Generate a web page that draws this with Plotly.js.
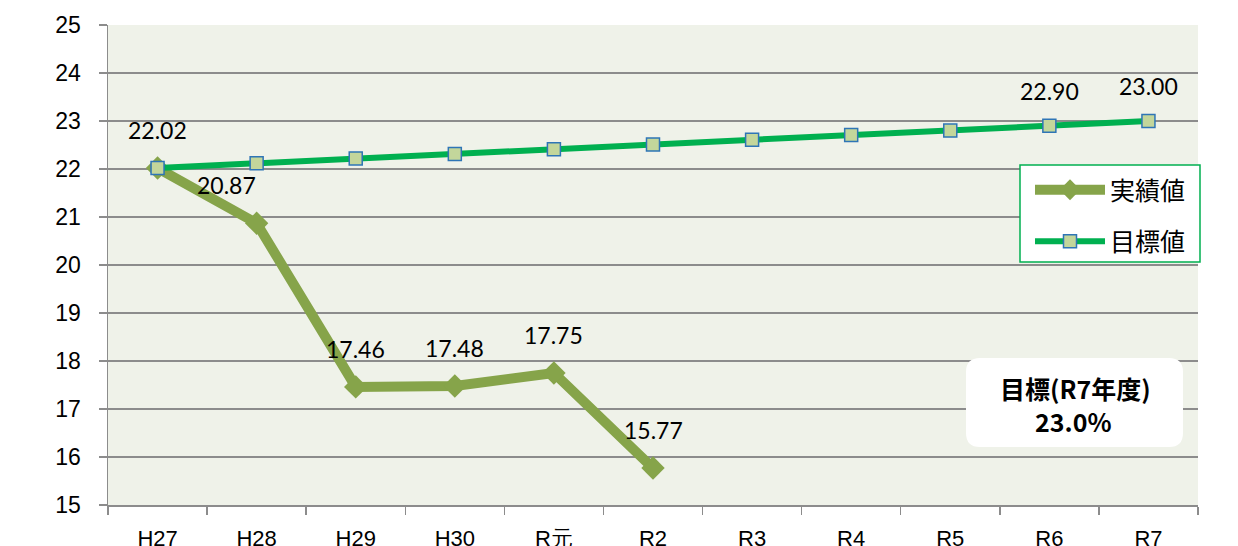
<!DOCTYPE html>
<html>
<head>
<meta charset="utf-8">
<script src="https://cdn.plot.ly/plotly-3.0.1.min.js"></script>
<style>html,body{margin:0;padding:0;background:#fff;}#chart{width:1238px;height:546px;}</style>
</head>
<body>
<div id="chart"></div>
<script>
// ---- data ----
const categories = ["H27","H28","H29","H30","R元","R2","R3","R4","R5","R6","R7"];
const actualName = "実績値";
const targetName = "目標値";
const actualValues = [22.02, 20.87, 17.46, 17.48, 17.75, 15.77, null, null, null, null, null];
const targetValues = [22.02, 22.12, 22.22, 22.31, 22.41, 22.51, 22.61, 22.71, 22.80, 22.90, 23.00];
const actualLabels = ["22.02","20.87","17.46","17.48","17.75","15.77"];
const targetLabelIdx = [9, 10];
const targetLabels = ["22.90","23.00"];
const boxLines = ["目標(R7年度)", "23.0%"];

// ---- layout helpers ----
const L = 108, R = 40, T = 25, B = 41, W = 1238, H = 546;
const pw = W - L - R, ph = H - T - B;
const px = x => (x - L) / pw;
const py = y => (H - B - y) / ph;

const labelFont = {family: "Lato, 'Open Sans', sans-serif", size: 23, color: "#000"};
const annotations = [];
actualLabels.forEach((t, i) => {
  annotations.push({
    x: categories[i], y: actualValues[i], xref: "x", yref: "y",
    text: t, showarrow: false, font: labelFont,
    xanchor: "center", yanchor: "middle",
    xshift: i === 1 ? -30 : 0, yshift: 38
  });
});
targetLabelIdx.forEach((idx, k) => {
  annotations.push({
    x: categories[idx], y: targetValues[idx], xref: "x", yref: "y",
    text: targetLabels[k], showarrow: false, font: labelFont,
    xanchor: "center", yanchor: "middle", yshift: 35
  });
});
// rounded box text
const boxFont = {family: "'Noto Sans CJK JP', sans-serif", size: 25, color: "#000"};
annotations.push({
  xref: "paper", yref: "paper", x: px(1075), y: py(388),
  text: "<b>" + boxLines[0] + "</b>", showarrow: false, font: boxFont,
  xanchor: "center", yanchor: "middle"
});
annotations.push({
  xref: "paper", yref: "paper", x: px(1073), y: py(421),
  text: "<b>" + boxLines[1] + "</b>", showarrow: false, font: boxFont,
  xanchor: "center", yanchor: "middle"
});

// rounded rect path in paper coords
function roundRect(x0, y0, x1, y1, r) {
  const rx = r / pw, ry = r / ph;
  const a = px(x0), b = px(x1), c = py(y1), d = py(y0);
  return `M${a+rx},${d} L${b-rx},${d} Q${b},${d} ${b},${d-ry} L${b},${c+ry} Q${b},${c} ${b-rx},${c} L${a+rx},${c} Q${a},${c} ${a},${c+ry} L${a},${d-ry} Q${a},${d} ${a+rx},${d} Z`;
}

const shapes = [
  {type: "path", xref: "paper", yref: "paper", path: roundRect(966, 358, 1183, 447, 14),
   fillcolor: "#ffffff", line: {width: 0}, layer: "above"},
  {type: "rect", xref: "paper", yref: "paper", x0: px(1020), x1: px(1200), y0: py(262), y1: py(165),
   fillcolor: "#ffffff", line: {color: "#00B050", width: 1.5}, layer: "above"}
];

const traces = [
  {
    x: categories, y: actualValues, name: actualName, type: "scatter", mode: "lines+markers",
    line: {color: "#86A44A", width: 10}, marker: {symbol: "diamond", size: 18, color: "#86A44A"},
    legendgroup: "a", connectgaps: false, cliponaxis: false
  },
  {
    x: categories, y: targetValues, name: targetName, type: "scatter", mode: "lines+markers",
    line: {color: "#00B050", width: 6},
    marker: {symbol: "square", size: 13, color: "#C3D69B", line: {color: "#2E75B6", width: 1.5}},
    legendgroup: "b", cliponaxis: false
  }
];

const layout = {
  width: W, height: H,
  margin: {l: L, r: R, t: T, b: B, pad: 0},
  paper_bgcolor: "#ffffff", plot_bgcolor: "#EFF2E9",
  showlegend: true,
  legend: {
    x: px(1030), y: py(167), xanchor: "left", yanchor: "top",
    bgcolor: "rgba(0,0,0,0)", borderwidth: 0, itemwidth: 70,
    font: {family: "'Noto Sans CJK JP', sans-serif", size: 25, color: "#000"},
    traceorder: "grouped", tracegroupgap: 16
  },
  xaxis: {
    type: "category", range: [-0.5, 10.5], tickson: "boundaries",
    ticks: "outside", ticklen: 8, tickcolor: "#8c8c8c", tickwidth: 1.5,
    showline: true, linecolor: "#8c8c8c", linewidth: 1.5, showgrid: false,
    tickfont: {family: "'Liberation Sans', Arial, sans-serif", size: 22, color: "#000"},
    ticklabelstandoff: 13
  },
  yaxis: {
    range: [15, 25], dtick: 1, tick0: 15,
    ticks: "outside", ticklen: 8, tickcolor: "#8c8c8c", tickwidth: 1.5,
    showline: true, linecolor: "#8c8c8c", linewidth: 1.5,
    showgrid: true, gridcolor: "#8c8c8c", gridwidth: 1.5, zeroline: false,
    tickfont: {family: "'Liberation Sans', Arial, sans-serif", size: 23, color: "#000"},
    ticklabelstandoff: 13
  },
  shapes: shapes,
  annotations: annotations
};

Plotly.newPlot("chart", traces, layout, {displayModeBar: false, staticPlot: true});
</script>
</body>
</html>
